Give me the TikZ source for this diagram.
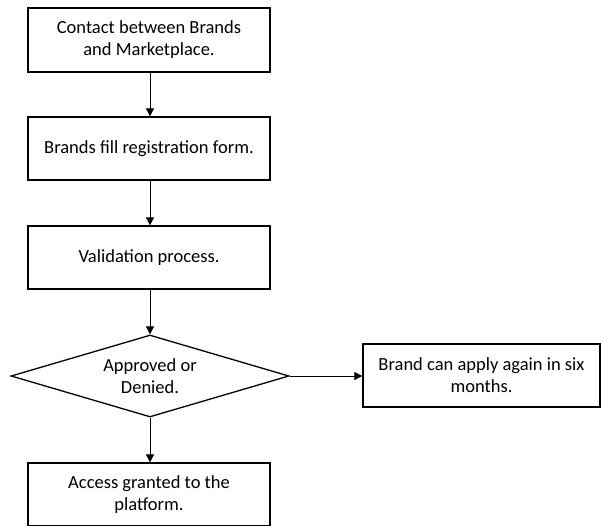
\documentclass[tikz,border=0pt]{standalone}
\usepackage{fontspec}
\setmainfont{Carlito}
\usetikzlibrary{shapes.geometric,arrows.meta}
\begin{document}
\begin{tikzpicture}[x=1pt,y=-1pt,
  font=\fontsize{18.5pt}{22pt}\selectfont,
  procbox/.style={draw=black,line width=1.3pt,rectangle,inner sep=0pt,align=center,
    minimum width=242pt,minimum height=63pt},
  decbox/.style={draw=black,line width=1.3pt,diamond,aspect=3.4,inner sep=0pt,align=center,
    minimum width=278pt,minimum height=82pt},
  conn/.style={draw=black,line width=0.8pt,-{Triangle[length=8pt,width=8pt]}}]
\useasboundingbox (0,0) rectangle (601,525);
\clip (0,0) rectangle (601,525);
\fill[white] (0,0) rectangle (601,525);
\node[procbox,minimum height=64pt] (contact) at (149,40) {Contact between Brands\\and Marketplace.};
\node[procbox] (fill) at (149,148.5) {Brands fill registration form.};
\node[procbox] (valid) at (149,257.5) {Validation process.};
\node[decbox] (dec) at (150,376) {Approved or\\Denied.};
\node[procbox,minimum width=237pt] (again) at (481.5,375.5) {Brand can apply again in six\\months.};
\node[procbox] (access) at (149,494.5) {Access granted to the\\platform.};
\draw[conn] (contact.south -| 150,0) -- (fill.north -| 150,0);
\draw[conn] (fill.south -| 150,0) -- (valid.north -| 150,0);
\draw[conn] (valid.south -| 150,0) -- (dec.north);
\draw[conn] (dec.south) -- (access.north -| 150,0);
\draw[conn] (dec.east) -- (again.west |- dec.east);
\end{tikzpicture}
\end{document}
